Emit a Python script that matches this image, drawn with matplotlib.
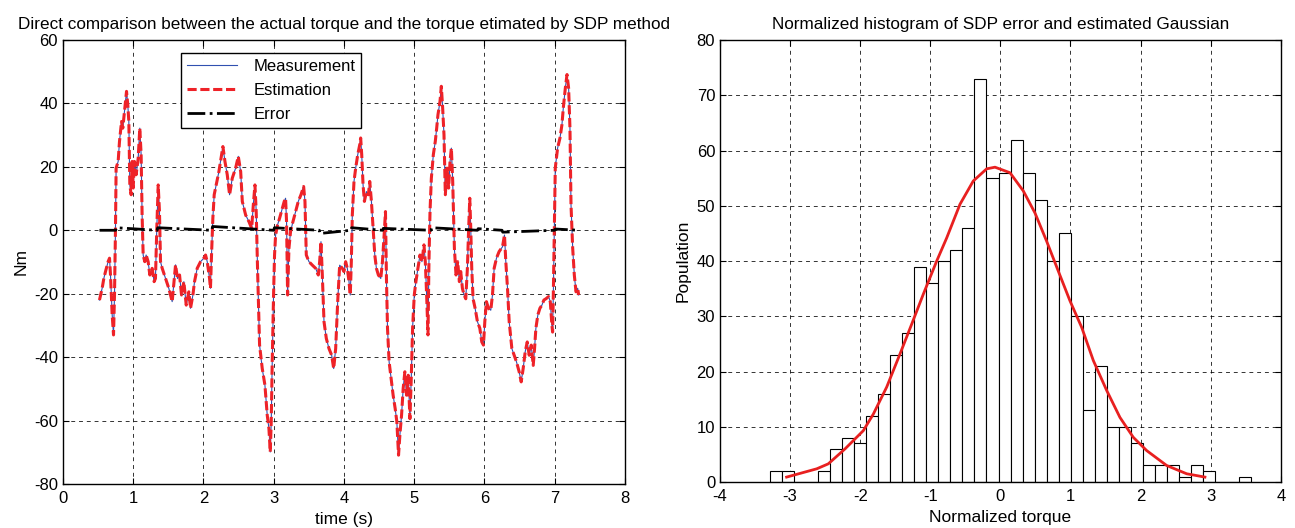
import matplotlib
matplotlib.use('Agg')
import matplotlib.pyplot as plt
import numpy as np

plt.rcParams['font.family'] = ['Liberation Sans', 'DejaVu Sans']
plt.rcParams['axes.unicode_minus'] = False

# torque signal (time s, torque Nm)
t = [0.52, 0.558, 0.582, 0.606, 0.643, 0.663, 0.677, 0.701, 0.72, 0.734, 0.748, 0.757,
     0.786, 0.805, 0.834, 0.852, 0.881, 0.905, 0.923, 0.938, 0.952, 0.971, 0.985, 1.0,
     1.018, 1.042, 1.071, 1.094, 1.113, 1.127, 1.142, 1.165, 1.184, 1.213, 1.237, 1.27,
     1.298, 1.317, 1.336, 1.356, 1.374, 1.389, 1.413, 1.46, 1.507, 1.555, 1.603, 1.631,
     1.66, 1.688, 1.721, 1.755, 1.792, 1.816, 1.85, 1.873, 1.911, 1.959, 2.006, 2.03,
     2.054, 2.087, 2.1, 2.115, 2.134, 2.153, 2.182, 2.22, 2.277, 2.306, 2.339, 2.372,
     2.41, 2.458, 2.496, 2.53, 2.553, 2.601, 2.648, 2.686, 2.71, 2.733, 2.751, 2.77,
     2.799, 2.837, 2.875, 2.908, 2.932, 2.951, 2.965, 2.979, 2.998, 3.012, 3.027, 3.055,
     3.084, 3.122, 3.15, 3.169, 3.183, 3.198, 3.217, 3.24, 3.274, 3.312, 3.35, 3.388,
     3.426, 3.445, 3.464, 3.502, 3.55, 3.597, 3.635, 3.654, 3.673, 3.692, 3.716, 3.749,
     3.787, 3.825, 3.854, 3.882, 3.911, 3.939, 3.977, 4.0, 4.024, 4.048, 4.072, 4.09,
     4.105, 4.119, 4.143, 4.167, 4.196, 4.224, 4.238, 4.253, 4.272, 4.291, 4.32, 4.348,
     4.367, 4.391, 4.415, 4.439, 4.462, 4.49, 4.524, 4.548, 4.572, 4.591, 4.605, 4.62,
     4.643, 4.672, 4.7, 4.729, 4.753, 4.777, 4.796, 4.82, 4.843, 4.867, 4.891, 4.915,
     4.939, 4.958, 4.977, 5.001, 5.024, 5.053, 5.082, 5.11, 5.139, 5.158, 5.177, 5.196,
     5.21, 5.225, 5.244, 5.272, 5.3, 5.32, 5.338, 5.367, 5.386, 5.405, 5.424, 5.443,
     5.467, 5.49, 5.51, 5.529, 5.548, 5.572, 5.595, 5.619, 5.643, 5.662, 5.686, 5.71,
     5.734, 5.757, 5.772, 5.791, 5.805, 5.819, 5.838, 5.867, 5.9, 5.934, 5.962, 5.986,
     6.005, 6.028, 6.057, 6.09, 6.114, 6.138, 6.171, 6.209, 6.257, 6.285, 6.304, 6.328,
     6.352, 6.39, 6.423, 6.456, 6.494, 6.523, 6.551, 6.58, 6.609, 6.637, 6.666, 6.694,
     6.713, 6.732, 6.76, 6.789, 6.818, 6.846, 6.875, 6.913, 6.937, 6.96, 6.97, 6.98,
     6.994, 7.008, 7.041, 7.075, 7.103, 7.122, 7.151, 7.175, 7.198, 7.217, 7.232, 7.256,
     7.279, 7.303, 7.327, 7.341]
torque = [-22, -18.3, -15.2, -13, -9.9, -8.8, -14.1, -26.7, -33, -20.4, 0.6, 19.6,
          21.7, 28, 34.3, 32.2, 38.5, 43.8, 39.6, 34.3, 14.3, 11.2, 21.7, 13.3,
          21.7, 17.5, 22.7, 32.2, 23.8, 4.8, -7.8, -9.9, -7.8, -9.9, -14.1, -12,
          -16.2, -15.2, 0.6, 14.3, 5.9, -9.9, -12, -15.2, -18.3, -22.5, -10.9, -15.2,
          -14.1, -20.4, -16.2, -23.6, -19.4, -24.6, -20.4, -16.2, -12, -9.9, -8.8, -7.8,
          -9.9, -15.2, -18.3, -7.8, 3.8, 11.2, 14.3, 18.5, 26.4, 21.7, 17.5, 11.2,
          16.4, 19.6, 23.3, 18.5, 9.1, 4.8, 2.7, 0.6, 8, 14.3, 5.9, -12,
          -36.2, -43.6, -48.8, -58.3, -62.5, -69.9, -60.4, -41.5, -20.4, -7.8, -1.5, 1.7,
          3.8, 6.9, 9.1, 10.1, 2.7, -20.4, -5.7, -0.4, 2.7, 5.9, 9.1, 11.2,
          13.8, 9.1, -7.8, -9.9, -11, -12, -14.1, -9.9, -3.6, -14.1, -28.8, -34.1,
          -37.3, -39.4, -43.6, -37.3, -22.5, -11, -12, -13, -9.9, -12, -16.2, -20.4,
          -9.9, 4.8, 15.4, 19.6, 23.8, 26.9, 29.1, 23.8, 14.3, 9.1, 12.2, 11.2,
          15.4, 9.1, 0.6, -7.8, -12, -14.1, -15.2, -9.9, -1.5, 5.9, -15.2, -30.9,
          -41.5, -46.7, -52, -56.2, -60.4, -70.9, -64.6, -58.3, -49.9, -44.6, -52, -45.7,
          -59.4, -46.7, -30.9, -20.4, -16.2, -12, -7.8, -9.9, -4.6, -9.9, -20.4, -33,
          -9.9, 5.9, 16.4, 23.8, 28, 32.2, 36.4, 40.6, 45.4, 38.5, 30.1, 11.2,
          19.6, 13.3, 21.7, 25.9, 15.4, -5.7, -14.1, -9.9, -16.2, -13, -18.3, -20.4,
          -21.6, -12, -1.5, 10.1, 0.6, -12, -21.6, -24.6, -28.8, -30.9, -35.2, -36.2,
          -28.8, -22.5, -24.6, -25.2, -20.4, -12, -8.8, -6.7, -5.2, -1.5, -9.9, -18.3,
          -28.8, -37.3, -39.4, -41.5, -44.6, -47.8, -43.6, -38.3, -35.2, -39.4, -36.2, -42.6,
          -37.3, -30.9, -26.7, -24.6, -23.6, -22, -21.6, -20.9, -22.5, -29.9, -32.1, -20.4,
          0.6, 19.6, 25.9, 29.1, 33.3, 38.5, 44.8, 49.1, 44.8, 32.2, 8, -5.7,
          -14.1, -19.4, -18.3, -20.4]

# estimation error (essentially zero with small blips)
err_t = [0.52, 0.75, 0.76, 1.34, 1.35, 2.12, 2.13, 3.0, 3.01, 3.65, 3.66, 4.1, 4.11,
         4.55, 4.56, 5.24, 5.25, 5.9, 5.91, 6.25, 6.26, 7.0, 7.01, 7.34]
err_v = [0, 0, 0.8, 0, 0.8, 0, 1.2, 0, 0.8, 0, -1.0, 0, 0.8,
         0, 0.6, 0, 0.8, 0, 0.5, 0, -0.6, 0, 0.4, 0]

# histogram of normalised error
hist_lo = -3.29
hist_hi = 3.58
counts = [2, 2, 0, 0, 2, 6, 8, 7, 12, 16, 23, 27, 39, 36, 40, 42, 46, 73, 55, 56,
          62, 56, 51, 40, 45, 30, 13, 21, 10, 10, 7, 3, 3, 3, 1, 3, 2, 0, 0, 1]

# estimated gaussian curve
gx = [-3.05, -2.62, -2.455, -2.217, -1.956, -1.813, -1.622, -1.432, -1.265, -1.1,
      -0.909, -0.766, -0.576, -0.387, -0.196, -0.077, 0.137, 0.327, 0.494, 0.66,
      0.826, 0.993, 1.16, 1.326, 1.516, 1.706, 1.896, 2.087, 2.372, 2.658, 2.918]
gy = [0.9, 2.4, 3.3, 6.0, 9.3, 12.3, 17.2, 23.2, 28.6, 34.0,
      40.0, 44.2, 50.3, 54.5, 56.7, 57.0, 56.0, 52.7, 48.7, 43.6,
      38.2, 32.8, 28.0, 22.0, 16.6, 11.7, 8.1, 5.7, 3.0, 1.5, 0.9]

fig = plt.figure(figsize=(12.95, 5.28), dpi=100)
ax1 = fig.add_axes([0.0486, 0.0833, 0.434, 0.841])
ax2 = fig.add_axes([0.556, 0.087, 0.433, 0.837])

grid_kw = dict(color='black', linestyle=(0, (4, 4)), linewidth=0.7, alpha=0.8)

for ax in (ax1, ax2):
    ax.set_axisbelow(True)
    ax.grid(True, **grid_kw)
    ax.tick_params(direction='in', top=True, right=True, labelsize=12, length=4)
    ax.tick_params(axis='x', pad=5)
    for s in ax.spines.values():
        s.set_linewidth(1.0)

ax1.plot(t, torque, color='#3050b0', linewidth=0.8, label='Measurement')
ax1.plot(t, torque, color='#ee2228', linewidth=2.2, linestyle=(0, (3, 1.2)), label='Estimation')
ax1.plot(err_t, err_v, color='black', linewidth=2, linestyle='-.', label='Error')
ax1.set_xlim(0, 8)
ax1.set_ylim(-80, 60)
ax1.set_xticks(range(0, 9))
ax1.set_yticks(range(-80, 61, 20))
ax1.set_xlabel('time (s)', fontsize=12.5, labelpad=4)
ax1.set_ylabel('Nm', fontsize=12.5, labelpad=4)
ax1.set_title('Direct comparison between the actual torque and the torque etimated by SDP method',
              fontsize=12.3, pad=8)
leg = ax1.legend(loc='upper left', bbox_to_anchor=(0.195, 0.99), fontsize=12,
                 fancybox=False, edgecolor='black', framealpha=1, handlelength=3.0,
                 borderpad=0.35, labelspacing=0.55, handletextpad=1.0)
leg.get_frame().set_linewidth(1.0)

edges = np.linspace(hist_lo, hist_hi, len(counts) + 1)
ax2.bar(edges[:-1], counts, width=np.diff(edges), align='edge', facecolor='white',
        edgecolor='black', linewidth=0.8)
ax2.plot(gx, gy, color='#e82020', linewidth=2)
ax2.set_xlim(-4, 4)
ax2.set_ylim(0, 80)
ax2.set_xticks(range(-4, 5))
ax2.set_yticks(range(0, 81, 10))
ax2.set_xlabel('Normalized torque', fontsize=12.5, labelpad=4)
ax2.set_ylabel('Population', fontsize=12.5, labelpad=4)
ax2.set_title('Normalized histogram of SDP error and estimated Gaussian', fontsize=12.3, pad=8)

fig.savefig('out.png', dpi=100)
